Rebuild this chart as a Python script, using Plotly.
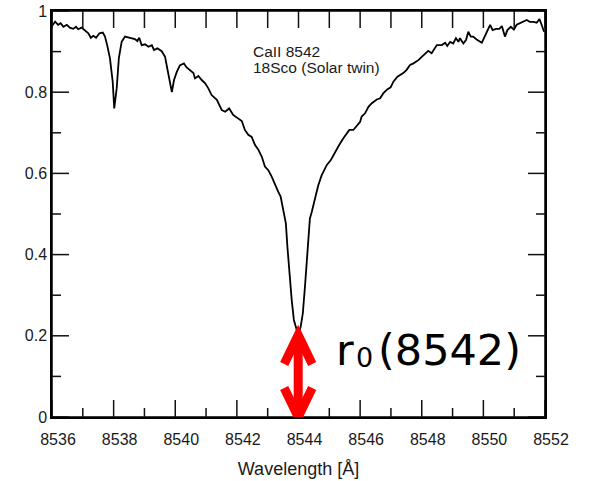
import plotly.graph_objects as go

# ---- data ----
wavelength = [
    8536.00, 8536.10, 8536.20, 8536.28, 8536.37, 8536.48, 8536.58, 8536.69, 8536.78, 8536.85,
    8536.96, 8537.07, 8537.18, 8537.26, 8537.34, 8537.43, 8537.54, 8537.65, 8537.72, 8537.79,
    8537.88, 8537.97, 8538.02, 8538.10, 8538.17, 8538.26, 8538.37, 8538.53, 8538.69, 8538.77,
    8538.83, 8538.91, 8539.02, 8539.13, 8539.24, 8539.31, 8539.42, 8539.56, 8539.67, 8539.74,
    8539.83, 8539.89, 8539.96, 8540.05, 8540.15, 8540.28, 8540.37, 8540.48, 8540.59, 8540.64,
    8540.75, 8540.86, 8540.97, 8541.07, 8541.18, 8541.35, 8541.51, 8541.62, 8541.75, 8541.88,
    8542.05, 8542.16, 8542.26, 8542.37, 8542.48, 8542.59, 8542.70, 8542.81, 8542.91, 8543.02,
    8543.13, 8543.24, 8543.34, 8543.42, 8543.51, 8543.59, 8543.64, 8543.70, 8543.78, 8543.85,
    8543.94, 8543.99, 8544.07, 8544.14, 8544.21, 8544.27, 8544.32, 8544.37, 8544.43, 8544.54,
    8544.64, 8544.75, 8544.92, 8545.05, 8545.19, 8545.32, 8545.45, 8545.56, 8545.65, 8545.78,
    8545.89, 8546.00, 8546.05, 8546.16, 8546.27, 8546.38, 8546.54, 8546.65, 8546.75, 8546.88,
    8546.99, 8547.08, 8547.21, 8547.30, 8547.40, 8547.51, 8547.62, 8547.73, 8547.89, 8548.00,
    8548.11, 8548.21, 8548.32, 8548.40, 8548.49, 8548.65, 8548.76, 8548.83, 8548.92, 8549.02,
    8549.11, 8549.19, 8549.24, 8549.35, 8549.44, 8549.51, 8549.59, 8549.67, 8549.78, 8549.95,
    8550.05, 8550.13, 8550.22, 8550.30, 8550.41, 8550.52, 8550.60, 8550.70, 8550.78, 8550.89,
    8550.99, 8551.08, 8551.19, 8551.30, 8551.41, 8551.51, 8551.64, 8551.73, 8551.82, 8551.89,
    8551.97,
]
flux = [
    0.963, 0.974, 0.966, 0.970, 0.961, 0.966, 0.959, 0.956, 0.961, 0.955,
    0.959, 0.953, 0.945, 0.934, 0.939, 0.934, 0.945, 0.947, 0.937, 0.916,
    0.884, 0.826, 0.760, 0.810, 0.884, 0.924, 0.937, 0.934, 0.931, 0.926,
    0.934, 0.916, 0.918, 0.912, 0.916, 0.904, 0.908, 0.901, 0.887, 0.859,
    0.818, 0.800, 0.830, 0.850, 0.866, 0.871, 0.861, 0.855, 0.847, 0.834,
    0.840, 0.830, 0.822, 0.810, 0.793, 0.781, 0.756, 0.752, 0.760, 0.744,
    0.736, 0.729, 0.707, 0.695, 0.690, 0.670, 0.658, 0.641, 0.617, 0.608,
    0.592, 0.571, 0.555, 0.543, 0.510, 0.477, 0.419, 0.354, 0.288, 0.239,
    0.214, 0.202, 0.222, 0.255, 0.321, 0.387, 0.444, 0.489, 0.505, 0.540,
    0.570, 0.595, 0.621, 0.633, 0.653, 0.670, 0.686, 0.699, 0.707, 0.707,
    0.717, 0.727, 0.740, 0.748, 0.764, 0.773, 0.782, 0.785, 0.797, 0.807,
    0.812, 0.826, 0.838, 0.842, 0.847, 0.855, 0.867, 0.871, 0.879, 0.887,
    0.896, 0.902, 0.896, 0.906, 0.916, 0.916, 0.922, 0.914, 0.924, 0.920,
    0.933, 0.924, 0.933, 0.920, 0.929, 0.949, 0.937, 0.937, 0.930, 0.922,
    0.937, 0.951, 0.966, 0.953, 0.956, 0.956, 0.963, 0.937, 0.953, 0.961,
    0.954, 0.966, 0.970, 0.973, 0.978, 0.973, 0.973, 0.971, 0.980, 0.966,
    0.949,
]
x_range = [8536, 8552]
y_range = [0, 1]
x_tickvals = [8536, 8538, 8540, 8542, 8544, 8546, 8548, 8550, 8552]
x_minorvals = [8537, 8539, 8541, 8543, 8545, 8547, 8549, 8551]
y_tickvals = [0, 0.2, 0.4, 0.6, 0.8, 1]
y_ticktext = ["0", "0.2", "0.4", "0.6", "0.8", "1"]
y_minorvals = [0.1, 0.3, 0.5, 0.7, 0.9]
label_line1 = "CaII 8542"
label_line2 = "18Sco (Solar twin)"
x_title = "Wavelength [Å]"

# line core (top of the r0 arrow)
i_min = min(range(len(flux)), key=lambda i: flux[i])
x_core, y_core = wavelength[i_min], flux[i_min]

FONT = "Liberation Sans, Arial, sans-serif"
tick_font = dict(family=FONT, size=16, color="#1a1a1a")
TC = "#111111"
MAJ, MIN = 17, 9

W, H = 589, 481
fig = go.Figure()
fig.add_trace(go.Scatter(x=wavelength, y=flux, mode="lines",
                         line=dict(color="black", width=1.8), showlegend=False,
                         hoverinfo="skip"))

fig.update_layout(
    width=W, height=H,
    margin=dict(l=52, r=44, t=11, b=64, pad=0),
    paper_bgcolor="white", plot_bgcolor="white",
    showlegend=False,
    xaxis=dict(
        range=x_range, showgrid=False, zeroline=False, automargin=False,
        showline=True, linecolor="black", linewidth=1.5, mirror=True,
        tickmode="array", tickvals=x_tickvals, ticktext=[str(v) for v in x_tickvals],
        ticks="", tickfont=tick_font, ticklabelshift=6, ticklabelstandoff=7,
        title=dict(text=x_title, font=dict(family=FONT, size=18, color="#1a1a1a"), standoff=15),
    ),
    yaxis=dict(
        range=y_range, showgrid=False, zeroline=False, automargin=False,
        showline=True, linecolor="black", linewidth=1.5, mirror=True,
        tickmode="array", tickvals=y_tickvals, ticktext=y_ticktext,
        ticks="", tickfont=tick_font, ticklabeloverflow="allow",
    ),
)

# frame (all four sides)
fig.add_shape(type="rect", xref="paper", yref="paper", x0=0, x1=1, y0=0, y1=1,
              line=dict(color="black", width=1.5), fillcolor="rgba(0,0,0,0)", layer="above")

# inside tick marks, anchored to the axes' data values, lengths in pixels
def xtick(v, anchor, length):
    fig.add_shape(type="line", xref="x", yref="y", ysizemode="pixel", yanchor=anchor,
                  x0=v, x1=v, y0=0, y1=length, line=dict(color=TC, width=1.5))

def ytick(v, anchor, length):
    fig.add_shape(type="line", xref="x", yref="y", xsizemode="pixel", xanchor=anchor,
                  x0=0, x1=length, y0=v, y1=v, line=dict(color=TC, width=1.5))

for v in x_tickvals:
    xtick(v, y_range[0], MAJ)
    xtick(v, y_range[1], -MAJ)
for v in x_minorvals:
    xtick(v, y_range[0], MIN)
    xtick(v, y_range[1], -MAJ)
for v in y_tickvals:
    ytick(v, x_range[0], MAJ)
    ytick(v, x_range[1], -MAJ)
for v in y_minorvals:
    ytick(v, x_range[0], MIN)
    ytick(v, x_range[1], -MIN)

def px(xw):
    return (xw - 52) / 493

def py(yw):
    return (417 - yw) / 406

ann_font = dict(family=FONT, size=15.5, color="#1a1a1a")
fig.add_annotation(text=label_line1, xref="paper", yref="paper", x=px(252), y=py(51.5),
                   xanchor="left", yanchor="middle", showarrow=False, font=ann_font, borderpad=0)
fig.add_annotation(text=label_line2, xref="paper", yref="paper", x=px(252), y=py(67.5),
                   xanchor="left", yanchor="middle", showarrow=False, font=ann_font, borderpad=0)

big = "DejaVu Sans, sans-serif"
fig.add_annotation(text="r", xref="paper", yref="paper", x=px(335), y=py(350),
                   xanchor="left", yanchor="middle", showarrow=False,
                   font=dict(family=big, size=43, color="black"), borderpad=0)
fig.add_annotation(text="0", xref="paper", yref="paper", x=px(355), y=py(357),
                   xanchor="left", yanchor="middle", showarrow=False,
                   font=dict(family=big, size=27, color="black"), borderpad=0)
fig.add_annotation(text="(8542)", xref="paper", yref="paper", x=px(377), y=py(350),
                   xanchor="left", yanchor="middle", showarrow=False,
                   font=dict(family=big, size=43, color="black"), borderpad=0)

red = "#ff0000"
fig.add_shape(type="line", xref="x", yref="y", x0=x_core, x1=x_core, y0=0, y1=y_core,
              line=dict(color=red, width=9))
fig.add_shape(type="path", xref="x", yref="y", xsizemode="pixel", ysizemode="pixel",
              xanchor=x_core, yanchor=y_core, path="M -14,-29 L 0,0 L 14,-29",
              line=dict(color=red, width=9))
fig.add_shape(type="path", xref="x", yref="y", xsizemode="pixel", ysizemode="pixel",
              xanchor=x_core, yanchor=0, path="M -14,29 L 0,0 L 14,29",
              line=dict(color=red, width=9))

# remove the browser's default 8px page margin so the figure sits at the window corner
fig.write_html("out.html", config={"displayModeBar": False},
               post_script="document.body.style.margin='0';")
